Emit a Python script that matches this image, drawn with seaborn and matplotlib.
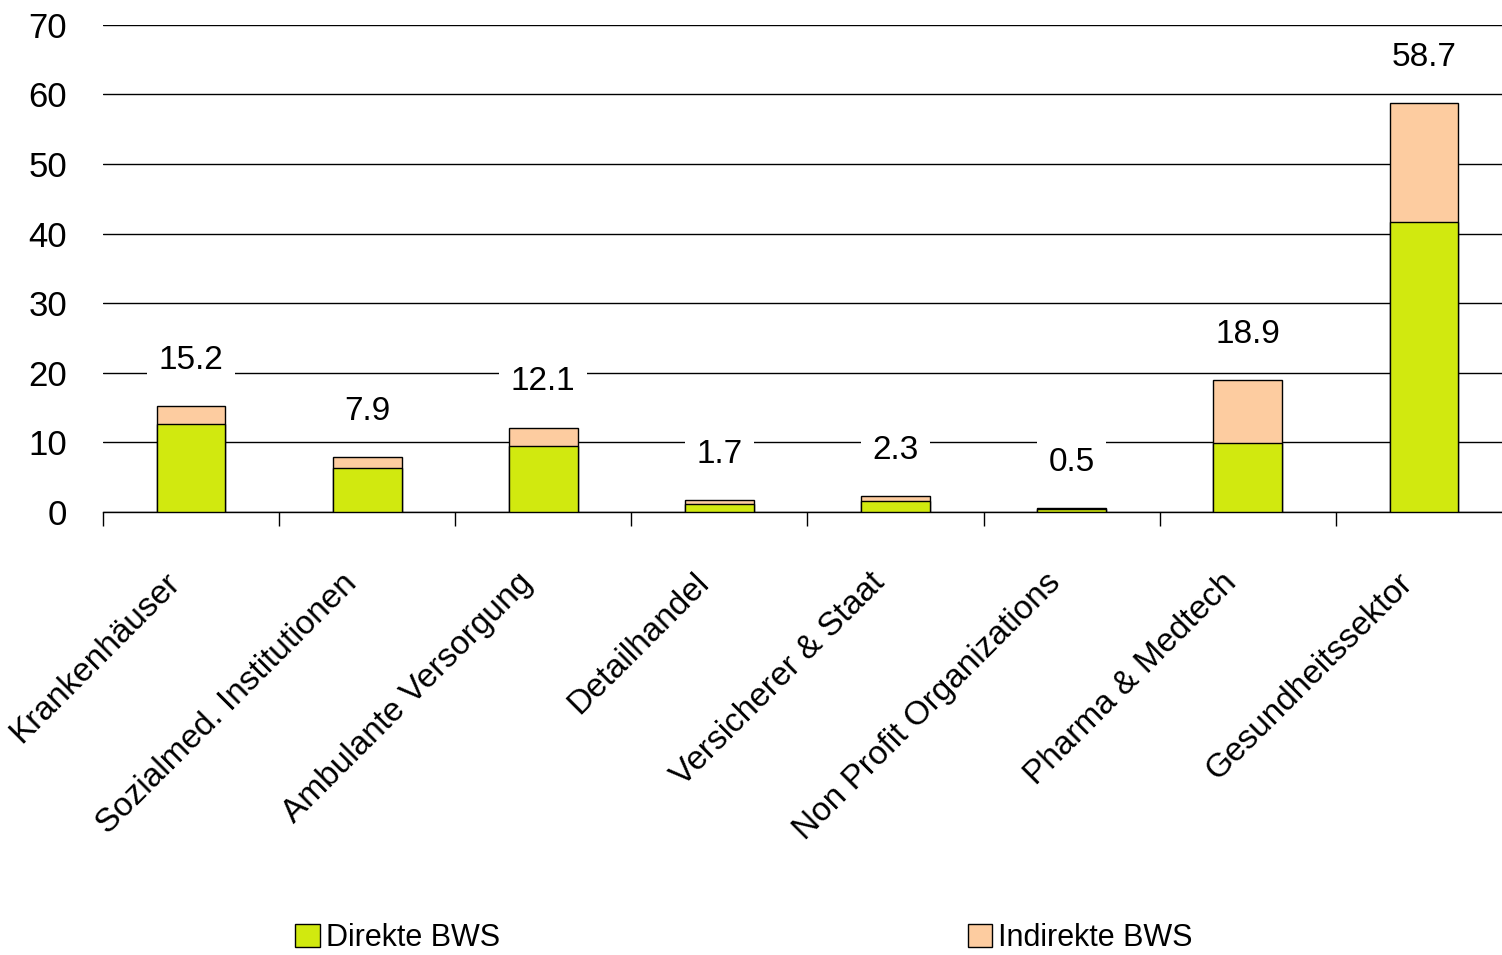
import numpy as np
import pandas as pd
import matplotlib
matplotlib.use("Agg")
import matplotlib.pyplot as plt
import matplotlib.transforms as mtransforms
import seaborn as sns
from matplotlib.patches import Patch

# ─── DATA ───────────────────────────────────────────────────────────────────
categories = ["Krankenhäuser", "Sozialmed. Institutionen", "Ambulante Versorgung",
              "Detailhandel", "Versicherer & Staat", "Non Profit Organizations",
              "Pharma & Medtech", "Gesundheitssektor"]
direkt = [12.7, 6.3, 9.5, 1.2, 1.5, 0.4, 9.9, 41.7]
total = [15.2, 7.9, 12.1, 1.7, 2.3, 0.5, 18.9, 58.7]
yticks = [0, 10, 20, 30, 40, 50, 60, 70]

green = "#d1e90f"
peach = "#fdcca0"

df = pd.DataFrame({"Kategorie": categories, "Direkt": direkt, "Total": total})

# ─── PLOT ───────────────────────────────────────────────────────────────────
sns.set_style("white")
plt.rcParams["font.family"] = ["Liberation Sans", "DejaVu Sans"]
plt.rcParams["text.color"] = "black"
plt.rcParams["xtick.color"] = "black"
plt.rcParams["ytick.color"] = "black"

fig = plt.figure(figsize=(15.02, 9.55), dpi=100)
ax = fig.add_axes([0.0686, 0.464, 0.938, 0.51])

sns.barplot(data=df, x="Kategorie", y="Total", color=peach, width=0.39,
            edgecolor="black", linewidth=1, saturation=1, ax=ax, zorder=3)
sns.barplot(data=df, x="Kategorie", y="Direkt", color=green, width=0.39,
            edgecolor="black", linewidth=1, saturation=1, ax=ax, zorder=3)

ax.set_ylim(0, 70)
ax.set_xlim(-0.5, 7.44)
ax.set_yticks(yticks)
ax.yaxis.grid(True, color="black", linewidth=1)
ax.set_axisbelow(True)
for s in ["top", "right", "left"]:
    ax.spines[s].set_visible(False)
ax.spines["bottom"].set_color("black")
ax.spines["bottom"].set_linewidth(1)

ax.set_xlabel("")
ax.set_ylabel("")
ax.tick_params(axis="y", length=0, labelsize=25, pad=26, labelcolor="black")

# category labels rotated, ticks at category boundaries
ax.set_xticks(range(len(categories)))
ax.set_xticklabels(categories, rotation=45, ha="right", rotation_mode="anchor",
                   fontsize=24, color="black")
ax.tick_params(axis="x", which="major", length=0, pad=40)
ax.set_xticks(np.arange(-0.5, len(categories), 1), minor=True)
ax.tick_params(axis="x", which="minor", bottom=True, length=10, width=1,
               color="black", direction="out")
shift = mtransforms.ScaledTranslation(-19 / 72, 0, fig.dpi_scale_trans)
for lab in ax.get_xticklabels():
    lab.set_transform(lab.get_transform() + shift)

# total labels
for i, t in enumerate(total):
    ax.annotate(f"{t:.1f}", xy=(i, t), xytext=(0, 33), textcoords="offset points",
                ha="center", va="center", fontsize=24, zorder=4, color="black",
                bbox=dict(boxstyle="square,pad=0.35", fc="white", ec="none"))

handles = [Patch(facecolor=green, edgecolor="black", label="Direkte BWS"),
           Patch(facecolor=peach, edgecolor="black", label="Indirekte BWS")]
leg = fig.legend(handles=handles, loc="center", bbox_to_anchor=(0.4953, 0.018), ncol=2,
                 frameon=False, fontsize=22, handlelength=0.8, handleheight=0.8,
                 handletextpad=0.2, columnspacing=15.3)
for txt in leg.get_texts():
    txt.set_color("black")

fig.savefig("out.png", dpi=100)
